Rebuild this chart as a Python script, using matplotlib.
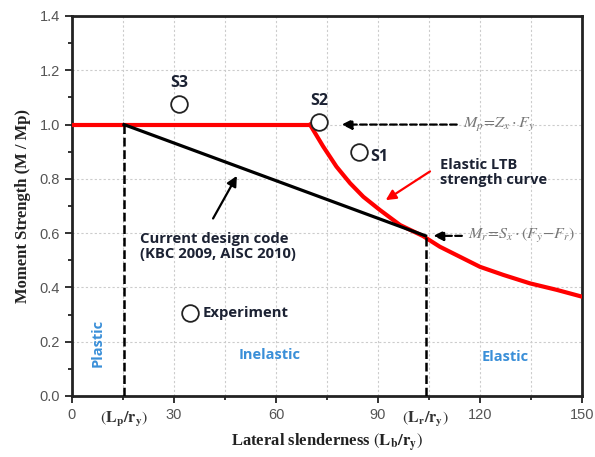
import matplotlib
matplotlib.use('Agg')
import matplotlib.pyplot as plt
from matplotlib.ticker import MultipleLocator

plt.rcParams['mathtext.fontset'] = 'stix'

# data
plastic_x = [0, 70]
plastic_y = [1.0, 1.0]
elastic_x = [70, 73.9, 77.8, 81.8, 85.7, 90.6, 96.5, 103.3, 108.2, 114.1,
             120, 126.9, 134.7, 142.6, 150]
elastic_y = [1.0, 0.919, 0.845, 0.784, 0.734, 0.685, 0.630, 0.589, 0.550, 0.513,
             0.476, 0.446, 0.415, 0.391, 0.366]
code_x = [15.3, 104]
code_y = [1.0, 0.59]
lp = 15.3
lr = 104
specimens = ['S1', 'S2', 'S3']
spec_x = [84.5, 72.6, 31.5]
spec_y = [0.90, 1.01, 1.076]
x_ticks = [0, 30, 60, 90, 120, 150]
y_ticks = [0.0, 0.2, 0.4, 0.6, 0.8, 1.0, 1.2, 1.4]

tick_font = 'Liberation Sans'
serif = 'Liberation Serif'
note_font = 'Open Sans'
note_col = '#1c2233'
blue = '#3a8fd8'

fig = plt.figure(figsize=(5.95, 4.57), dpi=100)
ax = fig.add_axes([0.121, 0.1335, 0.857, 0.8315])

ax.set_xlim(0, 150)
ax.set_ylim(0, 1.4)
ax.set_xticks(x_ticks)
ax.set_yticks(y_ticks)
ax.xaxis.set_minor_locator(MultipleLocator(15))
ax.yaxis.set_minor_locator(MultipleLocator(0.1))
ax.set_yticklabels(['%.1f' % v for v in y_ticks])
ax.tick_params(which='major', direction='out', length=5, width=1.3,
               labelsize=10.5, labelcolor='#555555', color='#222222')
ax.tick_params(which='minor', direction='out', length=3, width=1.3, color='#222222')
for lab in ax.get_xticklabels() + ax.get_yticklabels():
    lab.set_fontfamily(tick_font)
for sp in ax.spines.values():
    sp.set_linewidth(2.0)
    sp.set_color('#222222')

ax.grid(True, which='both', axis='x', color='#cccccc', linestyle=(0, (2, 2)), linewidth=0.8)
ax.grid(True, which='major', axis='y', color='#cccccc', linestyle=(0, (2, 2)), linewidth=0.8)
ax.set_axisbelow(True)

# curves
ax.plot(plastic_x, plastic_y, color='red', lw=3, solid_capstyle='butt', zorder=3)
ax.plot(elastic_x, elastic_y, color='red', lw=3, solid_joinstyle='round', zorder=3)
ax.plot(code_x, code_y, color='black', lw=2.3, zorder=4)
ax.plot([lp, lp], [0, 1.0], color='black', lw=1.8, ls=(0, (3.5, 1.5)), zorder=4)
ax.plot([lr, lr], [0, code_y[1]], color='black', lw=1.8, ls=(0, (3.5, 1.5)), zorder=4)

# specimens
ax.plot(spec_x, spec_y, 'o', ms=12, mfc='white', mec='#222222', mew=1.3, zorder=6)
ax.text(spec_x[0] + 3.3, spec_y[0] - 0.018, specimens[0], fontsize=11.5, family=note_font,
        weight='bold', color=note_col, ha='left', va='center')
ax.text(spec_x[1], spec_y[1] + 0.077, specimens[1], fontsize=11.5, family=note_font,
        weight='bold', color=note_col, ha='center', va='center')
ax.text(spec_x[2], spec_y[2] + 0.077, specimens[2], fontsize=11.5, family=note_font,
        weight='bold', color=note_col, ha='center', va='center')

# legend-like entry
ax.plot([34.7], [0.306], 'o', ms=12, mfc='white', mec='#222222', mew=1.3, zorder=6)
ax.text(38.5, 0.306, 'Experiment', fontsize=10.7, family=note_font, weight='bold',
        color=note_col, ha='left', va='center')

# formula annotations
ax.annotate('', xy=(78.5, 1.0), xytext=(114, 1.0),
            arrowprops=dict(arrowstyle='-|>', color='black', lw=1.6, ls=(0, (3, 1.5)),
                            mutation_scale=15))
ax.text(115, 1.0, r'$M_p\!=\!Z_x\cdot F_y$', fontsize=11.5, color='#777777',
        ha='left', va='center')
ax.annotate('', xy=(105.5, 0.59), xytext=(115.5, 0.59),
            arrowprops=dict(arrowstyle='-|>', color='black', lw=1.6, ls=(0, (3, 1.5)),
                            mutation_scale=15))
ax.text(116.5, 0.59, r'$M_r\!=\!S_x\cdot(F_y\!-\!F_r)$', fontsize=11.5, color='#777777',
        ha='left', va='center')

ax.text(108.2, 0.825, 'Elastic LTB\nstrength curve', fontsize=10.5, family=note_font,
        weight='bold', color=note_col, ha='left', va='center', linespacing=1.1)
ax.annotate('', xy=(91.6, 0.716), xytext=(106, 0.833),
            arrowprops=dict(arrowstyle='-|>', color='red', lw=1.6, mutation_scale=15))

ax.text(20, 0.55, 'Current design code\n(KBC 2009, AISC 2010)', fontsize=10.7, family=note_font,
        weight='bold', color=note_col, ha='left', va='center', linespacing=1.1)
ax.annotate('', xy=(48.9, 0.82), xytext=(41.1, 0.645),
            arrowprops=dict(arrowstyle='-|>', color='black', lw=1.6, mutation_scale=15))

# region labels
ax.text(7.4, 0.195, 'Plastic', rotation=90, fontsize=10.5, family=note_font, weight='bold',
        color=blue, ha='center', va='center')
ax.text(58, 0.15, 'Inelastic', fontsize=10.5, family=note_font, weight='bold',
        color=blue, ha='center', va='center')
ax.text(127.4, 0.145, 'Elastic', fontsize=10.5, family=note_font, weight='bold',
        color=blue, ha='center', va='center')

# extra x labels for Lp and Lr
ax.text(lp, -0.085, r'$(\mathbf{L_p/r_y})$', fontsize=11.5, ha='center', va='center',
        color='#333333', clip_on=False)
ax.text(lr, -0.085, r'$(\mathbf{L_r/r_y})$', fontsize=11.5, ha='center', va='center',
        color='#333333', clip_on=False)

ax.set_xlabel(r'Lateral slenderness $(\mathbf{L_b/r_y})$', fontsize=12, family=serif,
              weight='bold', color='#222222', labelpad=7)
ax.set_ylabel('Moment Strength (M / Mp)', fontsize=12, family=serif, weight='bold',
              color='#222222', labelpad=6)

fig.savefig('out.png', dpi=100)
